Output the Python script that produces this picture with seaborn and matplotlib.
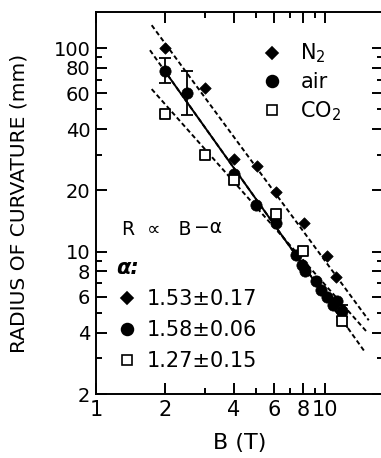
import numpy as np
import pandas as pd
import matplotlib
matplotlib.use("Agg")
import matplotlib.pyplot as plt
from matplotlib.lines import Line2D
from matplotlib.ticker import NullFormatter
import seaborn as sns

# values (B in T, R in mm)
n2_B = [2.0, 3.0, 4.0, 5.05, 6.1, 8.1, 10.2, 11.1]
n2_R = [100, 64, 28.4, 26.4, 19.6, 13.9, 9.5, 7.5]

air_B = [2.0, 2.5, 4.0, 5.0, 6.1, 7.5, 7.9, 8.2, 9.1, 9.6, 10.2, 10.8, 11.3, 11.8]
air_R = [77, 60, 24, 17, 13.8, 9.6, 8.6, 8.0, 7.2, 6.5, 6.0, 5.5, 5.7, 5.1]

co2_B = [2.0, 3.0, 4.0, 6.1, 8.0, 11.8]
co2_R = [47.3, 29.8, 22.5, 15.4, 10.1, 4.55]

# error bars on some of the air points
err_B = [2.0, 2.5, 11.8]
err_R = [77, 60, 5.1]
err_lo = [67.6, 47, 4.8]
err_hi = [89, 77, 5.5]

# power law fits R = A * B^-alpha
gas_labels = ["N$_2$", "air", "CO$_2$"]
alpha = [1.53, 1.58, 1.27]
alpha_err = [0.17, 0.06, 0.15]
prefactor = [305, 230, 128]
fit_lo = [1.75, 1.72, 1.75]
fit_hi = [15.5, 15.0, 15.2]
air_solid = (2.0, 12.5)

x_ticks = [1, 2, 4, 6, 8, 10]
x_minor = [3, 5, 7, 9]
y_ticks = [2, 4, 6, 8, 10, 20, 40, 60, 80, 100]
y_minor = [3, 5, 7, 9, 30, 50, 70, 90]

sns.set_style("ticks")
plt.rcParams["font.family"] = ["DejaVu Sans"]
plt.rcParams.update({"text.color": "black", "axes.labelcolor": "black",
                     "xtick.color": "black", "ytick.color": "black"})

fig = plt.figure(figsize=(3.81, 4.58), dpi=100)
ax = fig.add_axes([96 / 381, 64 / 458, 286.5 / 381, 382 / 458])
ax.set_xscale("log")
ax.set_yscale("log")

dash = (0, (2.4, 1.5))
for A, a, lo, hi in zip(prefactor, alpha, fit_lo, fit_hi):
    bb = np.geomspace(lo, hi, 50)
    ax.plot(bb, A * bb ** -a, color="black", lw=1.4, ls=dash, zorder=1)
bb = np.geomspace(*air_solid, 50)
ax.plot(bb, prefactor[1] * bb ** -alpha[1], color="black", lw=1.4, zorder=2)

ax.errorbar(err_B, err_R,
            yerr=[np.array(err_R) - np.array(err_lo), np.array(err_hi) - np.array(err_R)],
            fmt="none", ecolor="black", elinewidth=1.3, capsize=4.3, capthick=1.3, zorder=2)

sns.scatterplot(x=n2_B, y=n2_R, marker="D", s=34, color="black",
                edgecolor="black", linewidth=0.5, ax=ax, zorder=3)
sns.scatterplot(x=air_B, y=air_R, marker="o", s=66, color="black",
                edgecolor="black", linewidth=0.5, ax=ax, zorder=4)
sns.scatterplot(x=co2_B, y=co2_R, marker="s", s=42, color="white",
                edgecolor="black", linewidth=1.3, ax=ax, zorder=5)

ax.set_xlim(1, 17.8)
ax.set_ylim(2, 150.4)

ax.set_xticks(x_ticks, labels=[str(v) for v in x_ticks])
ax.set_xticks(x_minor, minor=True)
ax.set_yticks(y_ticks, labels=[str(v) for v in y_ticks])
ax.set_yticks(y_minor, minor=True)
ax.xaxis.set_minor_formatter(NullFormatter())
ax.yaxis.set_minor_formatter(NullFormatter())
ax.tick_params(which="both", direction="in", top=True, right=True, width=1.4, color="black")
ax.tick_params(which="major", length=8)
ax.tick_params(which="minor", length=4.3)
ax.tick_params(axis="x", labelsize=15, pad=4)
ax.tick_params(axis="y", labelsize=14, pad=4)
for sp in ax.spines.values():
    sp.set_linewidth(1.4)
    sp.set_color("black")

ax.set_xlabel("B (T)", fontsize=16, labelpad=10)
ax.set_ylabel("RADIUS OF CURVATURE (mm)", fontsize=14.6, labelpad=18)

def key(m, face, size):
    return Line2D([], [], ls="none", marker=m, markersize=size,
                  markerfacecolor=face, markeredgecolor="black", markeredgewidth=1.2)

handles = [key("D", "black", 6.5), key("o", "black", 8.5), key("s", "white", 7.5)]

leg1 = ax.legend(handles, gas_labels, loc="upper left", bbox_to_anchor=(0.579, 0.922),
                 frameon=False, fontsize=15, handlelength=1.0, handletextpad=0.85,
                 labelspacing=0.33, borderpad=0, borderaxespad=0)
ax.add_artist(leg1)

alpha_labels = [f"{a:.2f}±{e:.2f}" for a, e in zip(alpha, alpha_err)]
leg2 = ax.legend(handles, alpha_labels, loc="lower left", bbox_to_anchor=(0.071, 0.06),
                 frameon=False, fontsize=15, handlelength=1.0, handletextpad=0.46,
                 labelspacing=0.53, borderpad=0, borderaxespad=0, title="α:",
                 title_fontproperties={"size": 15, "weight": "bold", "style": "italic"},
                 alignment="left")

ax.text(0.091, 0.43, "R  ∝   B", transform=ax.transAxes,
        fontsize=13.5, ha="left", va="center")
ax.text(0.343, 0.437, "−α", transform=ax.transAxes,
        fontsize=13.5, ha="left", va="center")

fig.savefig("out.png", dpi=100)
